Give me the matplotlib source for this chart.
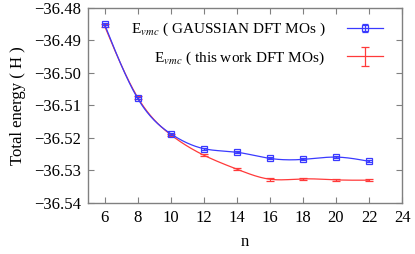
import numpy as np
import matplotlib
matplotlib.use("Agg")
import matplotlib.pyplot as plt
from matplotlib.lines import Line2D
from matplotlib.legend_handler import HandlerTuple, HandlerErrorbar

plt.rcParams['font.family'] = ['Liberation Serif', 'DejaVu Serif']
plt.rcParams['mathtext.fontset'] = 'stix'

# data
n = [6, 8, 10, 12, 14, 16, 18, 20, 22]
e_gauss = [-36.4850, -36.5078, -36.5187, -36.5233, -36.5244, -36.5263, -36.5266, -36.5259, -36.5272]
err_gauss = [0.0003, 0.0003, 0.0003, 0.0003, 0.0003, 0.0003, 0.0003, 0.0003, 0.0003]
e_work = [-36.4855, -36.5075, -36.5190, -36.5253, -36.5296, -36.5327, -36.5326, -36.5329, -36.5330]
err_work = [0.0004, 0.0004, 0.0003, 0.0004, 0.0003, 0.0004, 0.0003, 0.0003, 0.0003]
yticks = [-36.54, -36.53, -36.52, -36.51, -36.50, -36.49, -36.48]

blue = '#3a3aff'
red = '#ff3a3a'


def csplines(x, y, num=300):
    # natural cubic spline, like gnuplot "smooth csplines"
    x = np.asarray(x, float)
    y = np.asarray(y, float)
    k = len(x)
    h = np.diff(x)
    A = np.zeros((k, k))
    r = np.zeros(k)
    A[0, 0] = A[-1, -1] = 1
    for i in range(1, k - 1):
        A[i, i - 1] = h[i - 1]
        A[i, i] = 2 * (h[i - 1] + h[i])
        A[i, i + 1] = h[i]
        r[i] = 6 * ((y[i + 1] - y[i]) / h[i] - (y[i] - y[i - 1]) / h[i - 1])
    M = np.linalg.solve(A, r)
    xs = np.linspace(x[0], x[-1], num)
    idx = np.clip(np.searchsorted(x, xs) - 1, 0, k - 2)
    x0, x1 = x[idx], x[idx + 1]
    hh = x1 - x0
    a = (x1 - xs) / hh
    b = (xs - x0) / hh
    ys = a * y[idx] + b * y[idx + 1] + ((a**3 - a) * M[idx] + (b**3 - b) * M[idx + 1]) * hh**2 / 6
    return xs, ys


fig = plt.figure(figsize=(4.15, 2.54), dpi=100)
ax = fig.add_axes([0.212, 0.201, 0.757, 0.768])

xs, ys = csplines(n, e_work)
ax.plot(xs, ys, color=red, lw=0.9)
h_work = ax.errorbar(n, e_work, yerr=err_work, fmt='none', ecolor=red, elinewidth=0.9,
                     capsize=3, capthick=0.9)

xs, ys = csplines(n, e_gauss)
ax.plot(xs, ys, color=blue, lw=0.9)
h_gauss = ax.errorbar(n, e_gauss, yerr=err_gauss, fmt='s', color=blue, mfc='none', mec=blue,
                      ms=5, mew=0.9, ecolor=blue, elinewidth=0.9, capsize=2, capthick=0.9)

ax.set_xlim(5, 24)
ax.set_ylim(-36.54, -36.48)
ax.set_xticks(range(6, 25, 2))
ax.set_yticks(yticks)
ax.set_yticklabels([('%.2f' % v).replace('-', '\u2212') for v in yticks])
ax.tick_params(direction='in', top=True, right=True, length=4, color='#808080',
               labelsize=12, pad=5)
for s in ax.spines.values():
    s.set_color('#808080')
    s.set_linewidth(1.0)

ax.set_xlabel('n', fontsize=12, labelpad=6)
ax.set_ylabel('Total energy ( H )', fontsize=12, labelpad=6)

line_b = Line2D([], [], color=blue, lw=0.9)
line_r = Line2D([], [], color=red, lw=0.9)
ax.legend([(line_b, h_gauss), (line_r, h_work)],
          [r'E$_{vmc}$ ( GAUSSIAN DFT MOs )', r'E$_{vmc}$ ( this work DFT MOs)'],
          handler_map={tuple: HandlerTuple(ndivide=1),
                       h_gauss: HandlerErrorbar(yerr_size=0.25),
                       h_work: HandlerErrorbar(yerr_size=0.6)},
          loc='upper right', bbox_to_anchor=(0.981, 1.0), markerfirst=False, frameon=False,
          fontsize=11, handlelength=2.4, handletextpad=1.4, borderaxespad=0.45,
          labelspacing=0.75)

fig.savefig('out.png', dpi=100)
